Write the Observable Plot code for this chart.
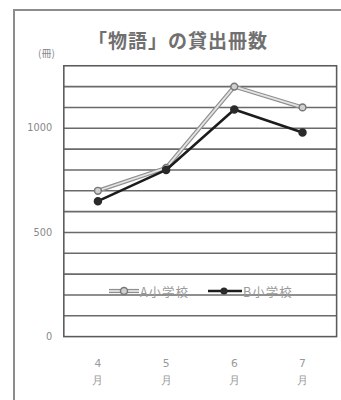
<!DOCTYPE html>
<html>
<head>
<meta charset="utf-8">
<script src="https://cdn.jsdelivr.net/npm/d3@7"></script>
<script src="https://cdn.jsdelivr.net/npm/@observablehq/plot@0.6"></script>
<style>
  html, body { margin: 0; padding: 0; background: #fff; overflow: hidden; }
  #wrap { position: relative; width: 341px; height: 400px; overflow: hidden; background: #fff;
          font-family: "Noto Sans CJK JP", "Noto Sans", sans-serif; }
  #outer { position: absolute; left: 13px; top: 9px; width: 400px; height: 420px;
           border-top: 2px solid #8c8c8c; border-left: 2px solid #8c8c8c; }
  #title { position: absolute; left: 88px; top: 26px; font-size: 19px; font-weight: 600;
           color: #707070; letter-spacing: 1px; white-space: nowrap; }
  #unit { position: absolute; left: 38px; top: 45px; font-size: 10px; color: #888; white-space: nowrap; }
  #chart { position: absolute; left: 0; top: 0; }
  #legend { position: absolute; left: 108px; top: 282px; height: 18px; display: flex; align-items: center;
            font-size: 12.5px; color: #9a9a9a; white-space: nowrap; letter-spacing: 1px; }
  #legend .item { display: flex; align-items: center; margin-right: 18px; }
</style>
</head>
<body>
<div id="wrap">
  <div id="outer"></div>
  <div id="chart"></div>
  <div id="title"></div>
  <div id="unit"></div>
  <div id="legend"></div>
</div>
<script>
const months = ["4月", "5月", "6月", "7月"];
const seriesNames = ["A小学校", "B小学校"];
const seriesA = [700, 810, 1200, 1100];
const seriesB = [650, 800, 1090, 980];
const yTickValues = [0, 500, 1000];
const gridValues = [100, 200, 300, 400, 500, 600, 700, 800, 900, 1000, 1100, 1200];
const yMax = 1300;
const titleText = "「物語」の貸出冊数";
const unitText = "(冊)";

const rows = [];
months.forEach((m, i) => {
  rows.push({month: m, series: seriesNames[0], value: seriesA[i]});
  rows.push({month: m, series: seriesNames[1], value: seriesB[i]});
});
const rowsA = rows.filter(d => d.series === seriesNames[0]);
const rowsB = rows.filter(d => d.series === seriesNames[1]);

const chart = Plot.plot({
  width: 350,
  height: 400,
  marginTop: 67,
  marginBottom: 55,
  marginLeft: 65,
  marginRight: 5,
  style: {background: "transparent", fontFamily: "DejaVu Sans, sans-serif"},
  x: {type: "point", domain: months, padding: 0.5},
  y: {domain: [0, yMax]},
  marks: [
    Plot.ruleY(gridValues, {stroke: "#6a6a6a", strokeWidth: 1.6}),
    Plot.frame({stroke: "#5a5a5a", strokeWidth: 1.6}),
    Plot.lineY(rowsA, {x: "month", y: "value", stroke: "#8f8f8f", strokeWidth: 4.2}),
    Plot.lineY(rowsA, {x: "month", y: "value", stroke: "#e4e4e4", strokeWidth: 1.8}),
    Plot.dot(rowsA, {x: "month", y: "value", r: 3.5, fill: "#d0d0d0", stroke: "#777", strokeWidth: 1.5}),
    Plot.lineY(rowsB, {x: "month", y: "value", stroke: "#1c1c1c", strokeWidth: 2.6}),
    Plot.dot(rowsB, {x: "month", y: "value", r: 3.6, fill: "#2a2a2a", stroke: "#2a2a2a"}),
    Plot.axisY({ticks: yTickValues, tickSize: 0, tickPadding: 12, label: null, tickFormat: d => String(d),
                fontSize: 10, fill: "#888", style: {letterSpacing: "1.5px"}}),
    Plot.axisX({tickSize: 0, tickPadding: 12, dy: 7, label: null, fontSize: 11, fill: "#999",
                lineHeight: 1.6, tickFormat: d => d.split("").join("\n")})
  ]
});
document.getElementById("chart").appendChild(chart);
document.getElementById("title").textContent = titleText;
document.getElementById("unit").textContent = unitText;

// legend
const legend = document.getElementById("legend");
function legendItem(name, isA) {
  const item = document.createElement("div");
  item.className = "item";
  const ns = "http://www.w3.org/2000/svg";
  const svg = document.createElementNS(ns, "svg");
  svg.setAttribute("width", 32); svg.setAttribute("height", 12);
  if (isA) {
    svg.innerHTML = '<line x1="1" y1="6" x2="31" y2="6" stroke="#8f8f8f" stroke-width="4.2"/>' +
      '<line x1="1" y1="6" x2="31" y2="6" stroke="#e4e4e4" stroke-width="1.8"/>' +
      '<circle cx="16" cy="6" r="3.5" fill="#d0d0d0" stroke="#777" stroke-width="1.5"/>';
  } else {
    svg.innerHTML = '<line x1="1" y1="6" x2="35" y2="6" stroke="#1c1c1c" stroke-width="2.6"/>' +
      '<circle cx="17" cy="6" r="3.6" fill="#2a2a2a"/>';
    svg.setAttribute("width", 36);
  }
  const label = document.createElement("span");
  label.textContent = name;
  item.appendChild(svg);
  item.appendChild(label);
  legend.appendChild(item);
}
legendItem(seriesNames[0], true);
legendItem(seriesNames[1], false);
</script>
</body>
</html>
